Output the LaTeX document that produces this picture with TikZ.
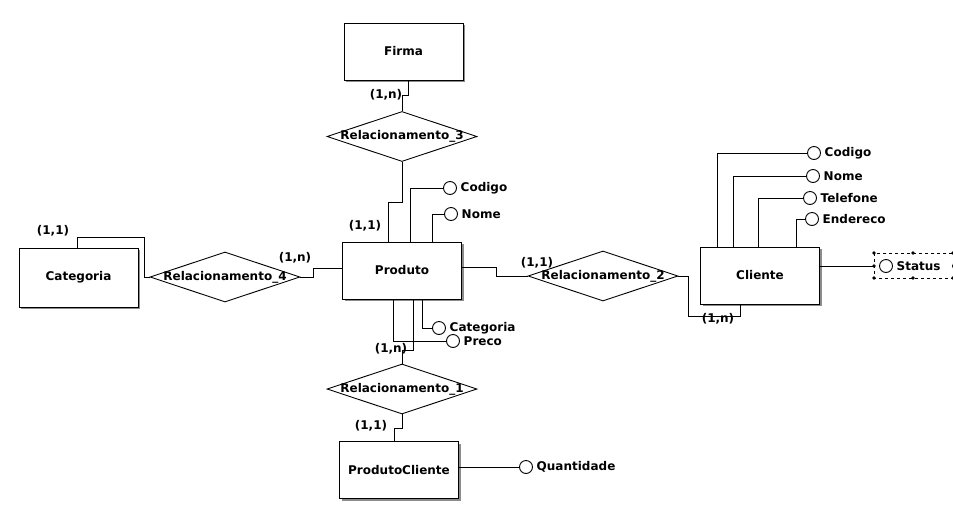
\documentclass[tikz,border=0pt]{standalone}
\usepackage{fontspec}
\setmainfont{DejaVu Sans}
\usetikzlibrary{shapes.geometric,shadows}
\newcommand{\erfont}{\fontsize{12}{14}\selectfont\bfseries}
\tikzset{
  entidade/.style={draw, fill=white, rectangle, minimum width=119pt,
    minimum height=57pt, inner sep=0pt, font=\erfont,
    drop shadow={shadow xshift=2pt, shadow yshift=-2pt, fill=black!45, opacity=1}},
  relacao/.style={draw, fill=white, diamond, minimum width=150pt,
    minimum height=50pt, inner sep=0pt},
  atributo/.style={draw, fill=white, circle, minimum size=13pt,
    inner sep=0pt, label distance=0.5pt},
  card/.style={font=\erfont, inner sep=0pt},
  every label/.style={font=\erfont},
}
\begin{document}
\begin{tikzpicture}[x=1pt, y=-1pt, line width=0.9pt]
    \fill[white] (0,0) rectangle (953,504);
    \useasboundingbox (0,0) rectangle (953,504);
    % entidades
    \node[entidade] (firma) at (403.5,51.5) {Firma};
    \node[entidade] (produto) at (402,270.5) {Produto};
    \node[entidade] (cliente) at (760,275.5) {Cliente};
    \node[entidade, minimum height=59pt] (categoria) at (78.5,277.5) {Categoria};
    \node[entidade] (prodcli) at (399,470) {ProdutoCliente};
    % relacionamentos
    \node[relacao, label={center:Relacionamento\_3}] (rel3) at (402,136.5) {};
    \node[relacao, label={center:Relacionamento\_4}] (rel4) at (225,277) {};
    \node[relacao, label={center:Relacionamento\_2}] (rel2) at (603,276) {};
    \node[relacao, label={center:Relacionamento\_1}] (rel1) at (402,389) {};
    % atributos
    \node[atributo, label=right:Codigo] (pcod) at (450,188) {};
    \node[atributo, label=right:Nome] (pnom) at (451,214) {};
    \node[atributo, label=right:Categoria] (pcat) at (439,328) {};
    \node[atributo, label=right:Preco] (ppre) at (453,341) {};
    \node[atributo, label=right:Quantidade] (pqtd) at (526,467) {};
    \node[atributo, label=right:Codigo] (ccod) at (814,153) {};
    \node[atributo, label=right:Nome] (cnom) at (813,176) {};
    \node[atributo, label=right:Telefone] (ctel) at (810,198) {};
    \node[atributo, label=right:Endereco] (cend) at (812,219) {};
    \node[atributo, label=right:Status] (cst) at (886,266) {};
    % cardinalidades
    \node[card] (k3a) at (386,95) {(1,n)};
    \node[card] (k3b) at (365,226) {(1,1)};
    \node[card] (k1a) at (391,349) {(1,n)};
    \node[card] (k1b) at (371,426) {(1,1)};
    \node[card] (k2a) at (537,263) {(1,1)};
    \node[card] (k2b) at (718,319) {(1,n)};
    \node[card] (k4a) at (53,231) {(1,1)};
    \node[card] (k4b) at (295,258) {(1,n)};
    % ligacoes
    \draw ([xshift=5pt]firma.south) -- ++(0,15) -| (rel3.north);
    \draw (rel3.south) -- ++(0,40) -| ([xshift=-14pt]produto.north);
    \draw ([xshift=11pt]produto.south) -- ++(0,51) -| (rel1.north);
    \draw (rel1.south) -- ++(0,14) -| ([xshift=-5pt]prodcli.north);
    \draw ([yshift=3.5pt]produto.east) -- ++(34,0) |- (rel2.west);
    \draw (rel2.east) -- ++(10,0) -- ++(0,40) -| ([xshift=-20pt]cliente.south);
    \draw ([xshift=-1.5pt]categoria.north) -- ++(0,-10) -- ++(67,0) |- (rel4.west);
    \draw (rel4.east) -- ++(13,0) |- ([yshift=2.5pt]produto.west);
    \draw ([xshift=8pt]produto.north) |- (pcod.west);
    \draw ([xshift=30pt]produto.north) |- (pnom.west);
    \draw ([xshift=20pt]produto.south) |- (pcat.west);
    \draw ([xshift=-9pt]produto.south) |- (ppre.west);
    \draw (prodcli.east |- pqtd.west) -- (pqtd.west);
    \draw ([xshift=-43pt]cliente.north) |- (ccod.west);
    \draw ([xshift=-27pt]cliente.north) |- (cnom.west);
    \draw ([xshift=-2pt]cliente.north) |- (ctel.west);
    \draw ([xshift=36pt]cliente.north) |- (cend.west);
    \draw (cliente.east |- cst.west) -- (874,266);
    % selecao do atributo Status
    \draw[dashed, line width=0.5pt] (874,253) rectangle (960,278);
    \foreach \x in {874,913,953}
        \foreach \y in {253,278}
            \fill (\x,\y) circle (1.8pt);
    \fill (874,266) circle (1.8pt);
    \draw (957,266) circle (4.5pt);
\end{tikzpicture}
\end{document}
